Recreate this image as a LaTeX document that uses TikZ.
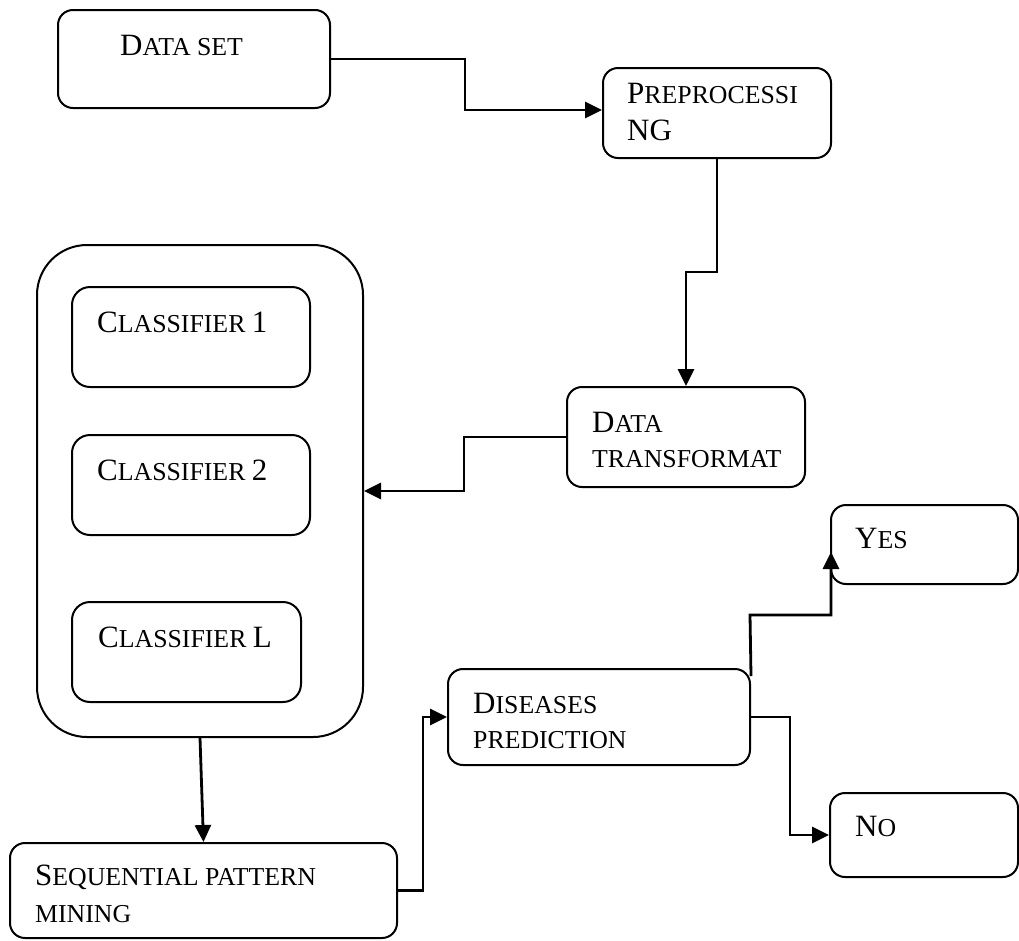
\documentclass[tikz,border=0pt]{standalone}
\usepackage{fontspec}
\setmainfont{Liberation Serif}
\usetikzlibrary{arrows.meta}
\newcommand\smc[1]{{\fontsize{25.8}{30}\selectfont #1}}
\begin{document}
\begin{tikzpicture}[x=1pt,y=-1pt,
  box/.style={draw, line width=2pt, rounded corners=15pt, inner sep=0pt},
  conn/.style={line width=2.8pt, line join=miter, -{Triangle[length=17pt,width=16pt]}},
  lbl/.style={anchor=base west, inner sep=0pt, font=\fontsize{31}{36}\selectfont}]
\useasboundingbox (0,0) rectangle (1019,940);
% boxes
\node[box, minimum width=272pt, minimum height=98pt] (ds) at (194,59) {};
\node[box, minimum width=228pt, minimum height=90pt] (pp) at (717,113) {};
\node[box, minimum width=238pt, minimum height=100pt] (dt) at (686,437) {};
\node[box, rounded corners=50pt, minimum width=326pt, minimum height=492pt] (outer) at (200,491) {};
\node[box, rounded corners=18pt, minimum width=238pt, minimum height=100pt] (c1) at (191,337) {};
\node[box, rounded corners=18pt, minimum width=238pt, minimum height=100pt] (c2) at (191,485) {};
\node[box, rounded corners=18pt, minimum width=229pt, minimum height=100pt] (cL) at (186.5,652) {};
\node[box, minimum width=387pt, minimum height=95pt] (seq) at (203.5,890.5) {};
\node[box, minimum width=302pt, minimum height=96pt] (dis) at (599,717) {};
\node[box, minimum width=187pt, minimum height=79pt] (yes) at (924.5,544.5) {};
\node[box, minimum width=188pt, minimum height=84pt] (no) at (924,835) {};
% texts
\node[lbl] (dsT) at (120,55) {D\smc{ATA SET}};
\node[lbl] (ppT1) at (627,103) {P\smc{REPROCESSI}};
\node[lbl] (ppT2) at (627,140) {NG};
\node[lbl] (dtT1) at (592,432) {D\smc{ATA}};
\node[lbl] (dtT2) at (592,467) {\smc{TRANSFORMAT}};
\node[lbl] (c1T) at (97,332) {C\smc{LASSIFIER }1};
\node[lbl] (c2T) at (97,480) {C\smc{LASSIFIER }2};
\node[lbl] (cLT) at (98,647) {C\smc{LASSIFIER }L};
\node[lbl] (seqT1) at (35,885) {S\smc{EQUENTIAL PATTERN}};
\node[lbl] (seqT2) at (35,922) {\smc{MINING}};
\node[lbl] (disT1) at (473,713) {D\smc{ISEASES}};
\node[lbl] (disT2) at (473,748) {\smc{PREDICTION}};
\node[lbl] (yesT) at (855,548) {Y\smc{ES}};
\node[lbl] (noT) at (855,836) {N\smc{O}};
% connectors
\draw[conn] (ds.east) -- (465,59) |- ([yshift=3pt]pp.west);
\draw[conn] (pp.south) -- (717,272) -| (dt.north);
\draw[conn] (dt.west) -- (464,437) |- (outer.east);
\draw[conn] (outer.south) -- (seq.north);
\draw[conn] (seq.east) -- (423,890.5) |- (dis.west);
\coordinate (yesin) at (831,552);
\draw[conn] ([yshift=-8pt]dis.north east) -- (750,615) -| (yesin);
\draw[conn] (dis.east) -- (790,717) |- (no.west);
\end{tikzpicture}
\end{document}
